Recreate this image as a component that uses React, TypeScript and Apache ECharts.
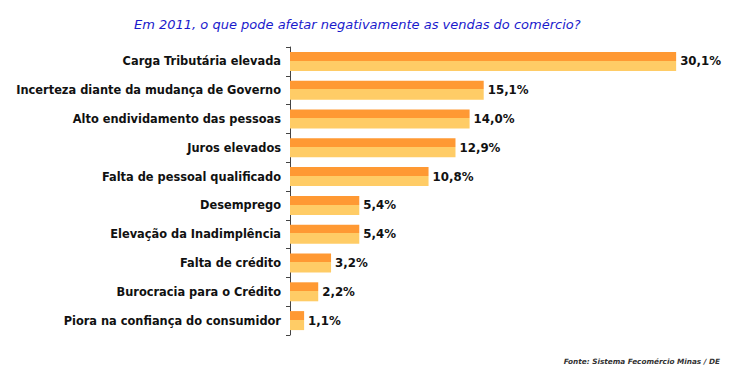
import React, { useEffect, useRef } from "react";
import * as echarts from "echarts";

const categories = [
  "Carga Tributária elevada",
  "Incerteza diante da mudança de Governo",
  "Alto endividamento das pessoas",
  "Juros elevados",
  "Falta de pessoal qualificado",
  "Desemprego",
  "Elevação da Inadimplência",
  "Falta de crédito",
  "Burocracia para o Crédito",
  "Piora na confiança do consumidor",
];
const values = [30.1, 15.1, 14.0, 12.9, 10.8, 5.4, 5.4, 3.2, 2.2, 1.1];
const titleText = "Em 2011, o que pode afetar negativamente as vendas do comércio?";
const sourceText = "Fonte: Sistema Fecomércio Minas / DE";

export default function App() {
  const ref = useRef<HTMLDivElement>(null);
  useEffect(() => {
    if (!ref.current) return;
    const chart = echarts.init(ref.current, undefined, { renderer: "svg" });
    const grad = new echarts.graphic.LinearGradient(0, 0, 0, 1, [
      { offset: 0, color: "#FF9933" },
      { offset: 0.46, color: "#FF9933" },
      { offset: 0.46, color: "#FFCC66" },
      { offset: 1, color: "#FFCC66" },
    ]);
    chart.setOption({
      animation: false,
      backgroundColor: "#FFFFFF",
      title: [
        {
          text: titleText,
          left: 129,
          top: 13,
          textStyle: {
            fontFamily: "DejaVu Sans",
            fontSize: 13,
            fontStyle: "italic",
            fontWeight: "normal",
            color: "#1a1acc",
          },
        },
        {
          text: sourceText,
          right: 31,
          top: 353,
          textStyle: {
            fontFamily: "DejaVu Sans",
            fontSize: 7.3,
            fontStyle: "italic",
            fontWeight: "bold",
            color: "#333333",
          },
        },
      ],
      grid: { left: 290, top: 47, height: 288, width: 449 },
      xAxis: {
        type: "value",
        min: 0,
        max: 35,
        show: false,
      },
      yAxis: {
        type: "category",
        data: categories,
        inverse: true,
        axisLine: { show: true, lineStyle: { color: "#444444", width: 1 } },
        axisTick: { show: true, length: 4, lineStyle: { color: "#444444" } },
        axisLabel: {
          margin: 9,
          fontFamily: "DejaVu Sans",
          fontSize: 11.4,
          fontWeight: "bold",
          color: "#111111",
        },
        splitLine: { show: false },
      },
      series: [
        {
          type: "bar",
          data: values,
          barWidth: 19,
          itemStyle: { color: grad },
          label: {
            show: true,
            position: "right",
            distance: 4,
            fontFamily: "DejaVu Sans",
            fontSize: 11.8,
            fontWeight: "bold",
            color: "#111111",
            formatter: (p: any) => p.value.toFixed(1).replace(".", ",") + "%",
          },
        },
      ],
    });
    return () => chart.dispose();
  }, []);
  return (
    <div
      ref={ref}
      style={{ position: "fixed", left: 0, top: 0, width: 756, height: 372 }}
    />
  );
}
